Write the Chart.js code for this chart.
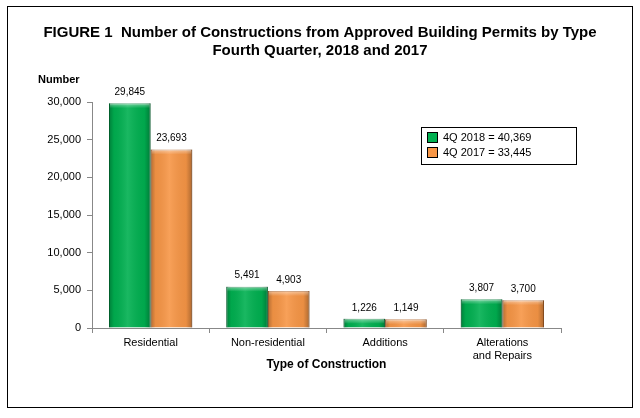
<!DOCTYPE html>
<html>
<head>
<meta charset="utf-8">
<script src="https://cdn.jsdelivr.net/npm/chart.js@4"></script>
<style>
  html, body { margin: 0; padding: 0; background: #fff; }
  #wrap { width: 640px; height: 418px; }
</style>
</head>
<body>
<div id="wrap"><canvas id="chart" width="640" height="418"></canvas></div>
<script>
// data
let categories = ["Residential", "Non-residential", "Additions", ["Alterations", "and Repairs"]];
let q4_2018 = [29845, 5491, 1226, 3807];
let q4_2017 = [23693, 4903, 1149, 3700];
let yTicks = [0, 5000, 10000, 15000, 20000, 25000, 30000];
let titleLines = ["FIGURE 1  Number of Constructions from Approved Building Permits by Type", "Fourth Quarter, 2018 and 2017"];

let greenMain = "#00B050";
let orangeMain = "#F79646";

function fmt(n) {
    return n.toLocaleString("en-US");
}

function total(arr) {
    return arr.reduce((a, b) => a + b, 0);
}

// frame, title, "Number" label, value labels, legend box and bar shading
const extras = {
    id: "extras",
    beforeDraw(chart) {
        let ctx = chart.ctx;
        ctx.save();
        ctx.fillStyle = "#fff";
        ctx.fillRect(0, 0, chart.width, chart.height);
        ctx.strokeStyle = "#000";
        ctx.lineWidth = 1;
        ctx.strokeRect(7.5, 6.5, 625, 401);

        ctx.fillStyle = "#000";
        ctx.font = "bold 15px Arial, 'Liberation Sans'";
        ctx.textAlign = "center";
        ctx.textBaseline = "middle";
        titleLines.forEach((t, i) => ctx.fillText(t, 320, 33 + i * 18));
        ctx.restore();
    },
    afterDatasetsDraw(chart) {
        let ctx = chart.ctx;
        ctx.save();

        // bevel shading over every bar
        chart.data.datasets.forEach((ds, di) => {
            let meta = chart.getDatasetMeta(di);
            meta.data.forEach(bar => {
                let left = bar.x - bar.width / 2;
                let right = bar.x + bar.width / 2;
                let g = ctx.createLinearGradient(left, 0, right, 0);
                g.addColorStop(0, "rgba(0,0,0,0.28)");
                g.addColorStop(0.12, "rgba(0,0,0,0.05)");
                g.addColorStop(0.45, "rgba(255,255,255,0.10)");
                g.addColorStop(0.85, "rgba(0,0,0,0.05)");
                g.addColorStop(1, "rgba(0,0,0,0.30)");
                ctx.fillStyle = g;
                ctx.fillRect(left, bar.y, bar.width, bar.base - bar.y);
                let h = Math.min(5, bar.base - bar.y);
                let t = ctx.createLinearGradient(0, bar.y, 0, bar.y + h);
                t.addColorStop(0, "rgba(255,255,255,0.45)");
                t.addColorStop(1, "rgba(255,255,255,0)");
                ctx.fillStyle = t;
                ctx.fillRect(left + 1, bar.y, bar.width - 2, h);
            });
        });

        // value labels
        ctx.font = "10px Arial, 'Liberation Sans'";
        ctx.fillStyle = "#000";
        ctx.textAlign = "center";
        ctx.textBaseline = "bottom";
        chart.data.datasets.forEach((ds, di) => {
            let meta = chart.getDatasetMeta(di);
            meta.data.forEach((bar, i) => {
                ctx.fillText(fmt(ds.data[i]), bar.x, bar.y - 6);
            });
        });

        // y axis caption
        ctx.font = "bold 11px Arial, 'Liberation Sans'";
        ctx.textAlign = "left";
        ctx.textBaseline = "middle";
        ctx.fillText("Number", 38, 80);

        // legend box
        let lx = 421, ly = 127;
        ctx.strokeStyle = "#000";
        ctx.lineWidth = 1;
        ctx.strokeRect(lx + 0.5, ly + 0.5, 155, 37);
        ctx.font = "11px Arial, 'Liberation Sans'";
        chart.data.datasets.forEach((ds, di) => {
            let y = ly + 5 + di * 15;
            ctx.fillStyle = ds.backgroundColor;
            ctx.fillRect(lx + 6, y, 11, 11);
            ctx.strokeRect(lx + 6.5, y + 0.5, 10, 10);
            ctx.fillStyle = "#000";
            ctx.fillText(ds.label + " = " + fmt(total(ds.data)), lx + 22, y + 6);
        });
        ctx.restore();
    }
};

const ctx = document.getElementById("chart");

let chart = new Chart(ctx, {
    type: "bar",
    data: {
        labels: categories,
        datasets: [
            {
                label: "4Q 2018",
                data: q4_2018,
                backgroundColor: greenMain,
                borderColor: "#00803A",
                borderWidth: 1
            },
            {
                label: "4Q 2017",
                data: q4_2017,
                backgroundColor: orangeMain,
                borderColor: "#B8682A",
                borderWidth: 1
            }
        ]
    },
    options: {
        responsive: false,
        animation: false,
        devicePixelRatio: 1,
        categoryPercentage: 0.71,
        barPercentage: 1,
        layout: { padding: { top: 102, right: 79, bottom: 46, left: 0 } },
        plugins: {
            legend: { display: false },
            tooltip: { enabled: false },
            title: { display: false }
        },
        scales: {
            y: {
                min: 0,
                max: 30000,
                afterBuildTicks: s => { s.ticks = yTicks.map(v => ({ value: v })); },
                afterFit: s => { s.width = 92; },
                ticks: {
                    color: "#000",
                    font: { family: "Arial, 'Liberation Sans'", size: 11 },
                    padding: 6,
                    callback: v => fmt(v)
                },
                grid: { drawOnChartArea: false, color: "#888", tickLength: 5 },
                border: { color: "#888" }
            },
            x: {
                afterFit: s => { s.height = 44; },
                ticks: {
                    color: "#000",
                    font: { family: "Arial, 'Liberation Sans'", size: 11, lineHeight: 1.15 },
                    padding: 4,
                    maxRotation: 0
                },
                grid: { drawOnChartArea: false, color: "#888", tickLength: 5, offset: true },
                border: { color: "#888" },
                title: {
                    display: true,
                    text: "Type of Construction",
                    color: "#000",
                    font: { family: "Arial, 'Liberation Sans'", size: 12, weight: "bold" },
                    padding: { top: 4, bottom: 0 }
                }
            }
        }
    },
    plugins: [extras]
});
</script>
</body>
</html>
